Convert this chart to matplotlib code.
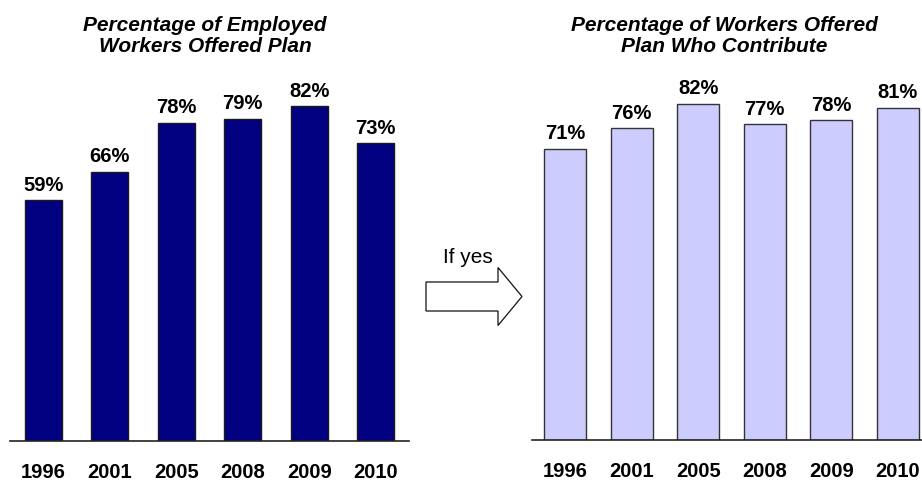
import matplotlib
matplotlib.use("Agg")
import matplotlib.pyplot as plt
from matplotlib.patches import FancyArrow

plt.rcParams['font.family'] = ['Liberation Sans', 'DejaVu Sans']

years = ["1996", "2001", "2005", "2008", "2009", "2010"]
offered = [59, 66, 78, 79, 82, 73]
contribute = [71, 76, 82, 77, 78, 81]
title_left = ["Percentage of Employed", "Workers Offered Plan"]
title_right = ["Percentage of Workers Offered", "Plan Who Contribute"]
arrow_label = "If yes"

W, H = 922, 483
fig = plt.figure(figsize=(W / 100, H / 100), dpi=100)

def px_axes(x0, x1, ybase, ytop):
    return fig.add_axes([x0 / W, (H - ybase) / H, (x1 - x0) / W, (ybase - ytop) / H])

ax1 = px_axes(10, 409, 441, 33)
ax2 = px_axes(532, 931, 440, 30)

def draw(ax, vals, color, edge, width):
    x = range(len(years))
    bars = ax.bar(x, vals, width=width, color=color, edgecolor=edge, linewidth=1.0, zorder=2)
    ax.set_xlim(-0.5, len(years) - 0.5)
    ax.set_ylim(0, 100)
    ax.bar_label(bars, labels=[f"{v}%" for v in vals], padding=4,
                 fontsize=14.5, fontweight='bold')
    ax.set_xticks(list(x))
    ax.set_xticklabels(years, fontsize=14.5, fontweight='bold')
    ax.tick_params(axis='x', length=0, pad=16)
    ax.set_yticks([])
    for s in ['top', 'right', 'left']:
        ax.spines[s].set_visible(False)
    ax.spines['bottom'].set_linewidth(1.2)
    ax.spines['bottom'].set_color('#222222')
    ax.patch.set_alpha(0)

draw(ax1, offered, '#000080', '#1a1a1a', 0.556)
draw(ax2, contribute, '#CCCCFF', '#333333', 0.63)

for cx, lines in ((205, title_left), (724.5, title_right)):
    for yb, line in zip((31, 52), lines):
        fig.text(cx / W, 1 - yb / H, line, ha='center', va='baseline', fontsize=15,
                 fontweight='bold', fontstyle='italic')

fig.text(468 / W, 1 - 263 / H, arrow_label, ha='center', va='baseline', fontsize=15)

arr = FancyArrow(4.26, (H - 296.5) / 100, 0.96, 0, width=0.29, head_width=0.58,
                 head_length=0.24, length_includes_head=True,
                 transform=fig.dpi_scale_trans, facecolor='white',
                 edgecolor='#111111', linewidth=0.9)
fig.add_artist(arr)

fig.savefig("out.png", dpi=100)
